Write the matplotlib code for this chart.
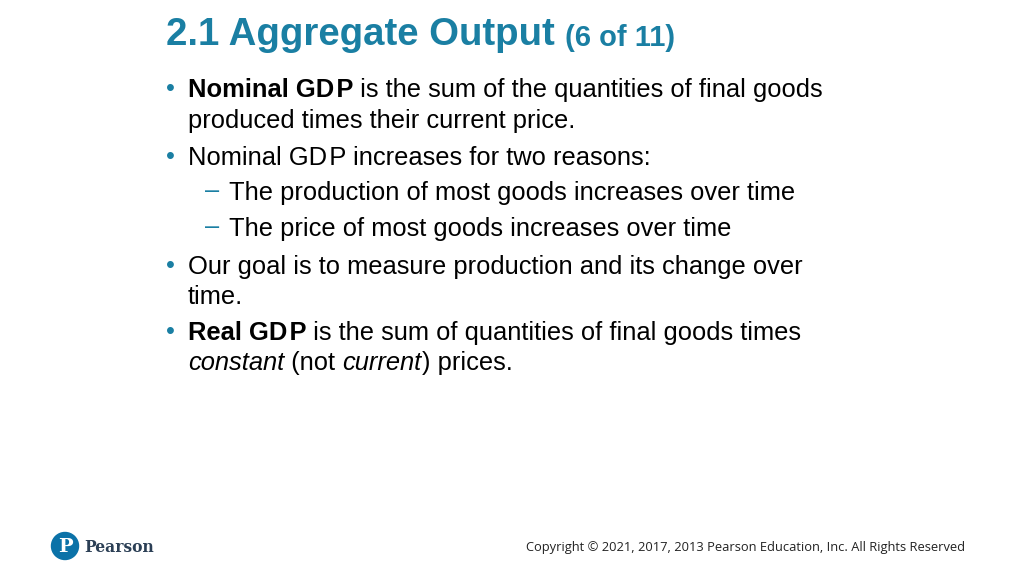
import matplotlib
matplotlib.use("Agg")
import matplotlib.pyplot as plt
from matplotlib.patches import Circle

W, H = 1024, 575
title_main = "2.1 Aggregate Output"
title_sub = "(6 of 11)"
lines = [
    (0, 87, [("Nominal GD\u200aP", "bold", "normal"), (" is the sum of the quantities of final goods", "normal", "normal")]),
    (None, 118, [("produced times their current price.", "normal", "normal")]),
    (0, 155, [("Nominal GD\u200aP increases for two reasons:", "normal", "normal")]),
    (1, 190, [("The production of most goods increases over time", "normal", "normal")]),
    (1, 226, [("The price of most goods increases over time", "normal", "normal")]),
    (0, 264, [("Our goal is to measure production and its change over", "normal", "normal")]),
    (None, 294, [("time.", "normal", "normal")]),
    (0, 330, [("Real GD\u200aP", "bold", "normal"), (" is the sum of quantities of final goods times", "normal", "normal")]),
    (None, 360, [("constant", "normal", "italic"), (" (not ", "normal", "normal"), ("current", "normal", "italic"), (") prices.", "normal", "normal")]),
]
copyright_text = "Copyright \u00a9 2021, 2017, 2013 Pearson Education, Inc. All Rights Reserved"

BLUE = "#1a7fa3"
fig = plt.figure(figsize=(10.24, 5.75), dpi=100)
ax = fig.add_axes([0, 0, 1, 1])
ax.set_xlim(0, W); ax.set_ylim(H, 0); ax.axis("off")
fig.canvas.draw()
r = fig.canvas.get_renderer()
FAM = ["Liberation Sans", "DejaVu Sans"]
SZ = 18.4

def seq(x, y, segs, size, color="black"):
    for txt, w, st in segs:
        t = ax.text(x, y, txt, fontsize=size, fontweight=w, fontstyle=st, family=FAM,
                    color=color, va="center", ha="left")
        bb = t.get_window_extent(renderer=r)
        x += bb.width
    return x

x = seq(166, 35, [(title_main, "bold", "normal")], 27.6, BLUE)
seq(x + 10, 38, [(title_sub, "bold", "normal")], 21, BLUE)

for lvl, y, segs in lines:
    y += 3
    if lvl == 0:
        ax.text(166, y - 1, "\u2022", fontsize=SZ, color=BLUE, va="center", family=FAM)
        seq(188, y, segs, SZ)
    elif lvl == 1:
        ax.text(205, y - 2, "\u2013", fontsize=SZ, color=BLUE, va="center", family=FAM)
        seq(229, y, segs, SZ)
    else:
        seq(188, y, segs, SZ)

ax.add_patch(Circle((65, 546), 13.5, color="#0b72a8"))
ax.text(65.5, 547, "P", fontsize=14, fontweight="bold", color="white", ha="center", va="center", family="DejaVu Serif")
ax.text(84, 547, "Pearson", fontsize=11.2, fontweight="bold", color="#2b3f55", ha="left", va="center", family="DejaVu Serif")
ax.text(965, 547, copyright_text, fontsize=9.3, color="#222222", ha="right", va="center", family=["Open Sans", "DejaVu Sans"])

fig.savefig("out.png", dpi=100)
